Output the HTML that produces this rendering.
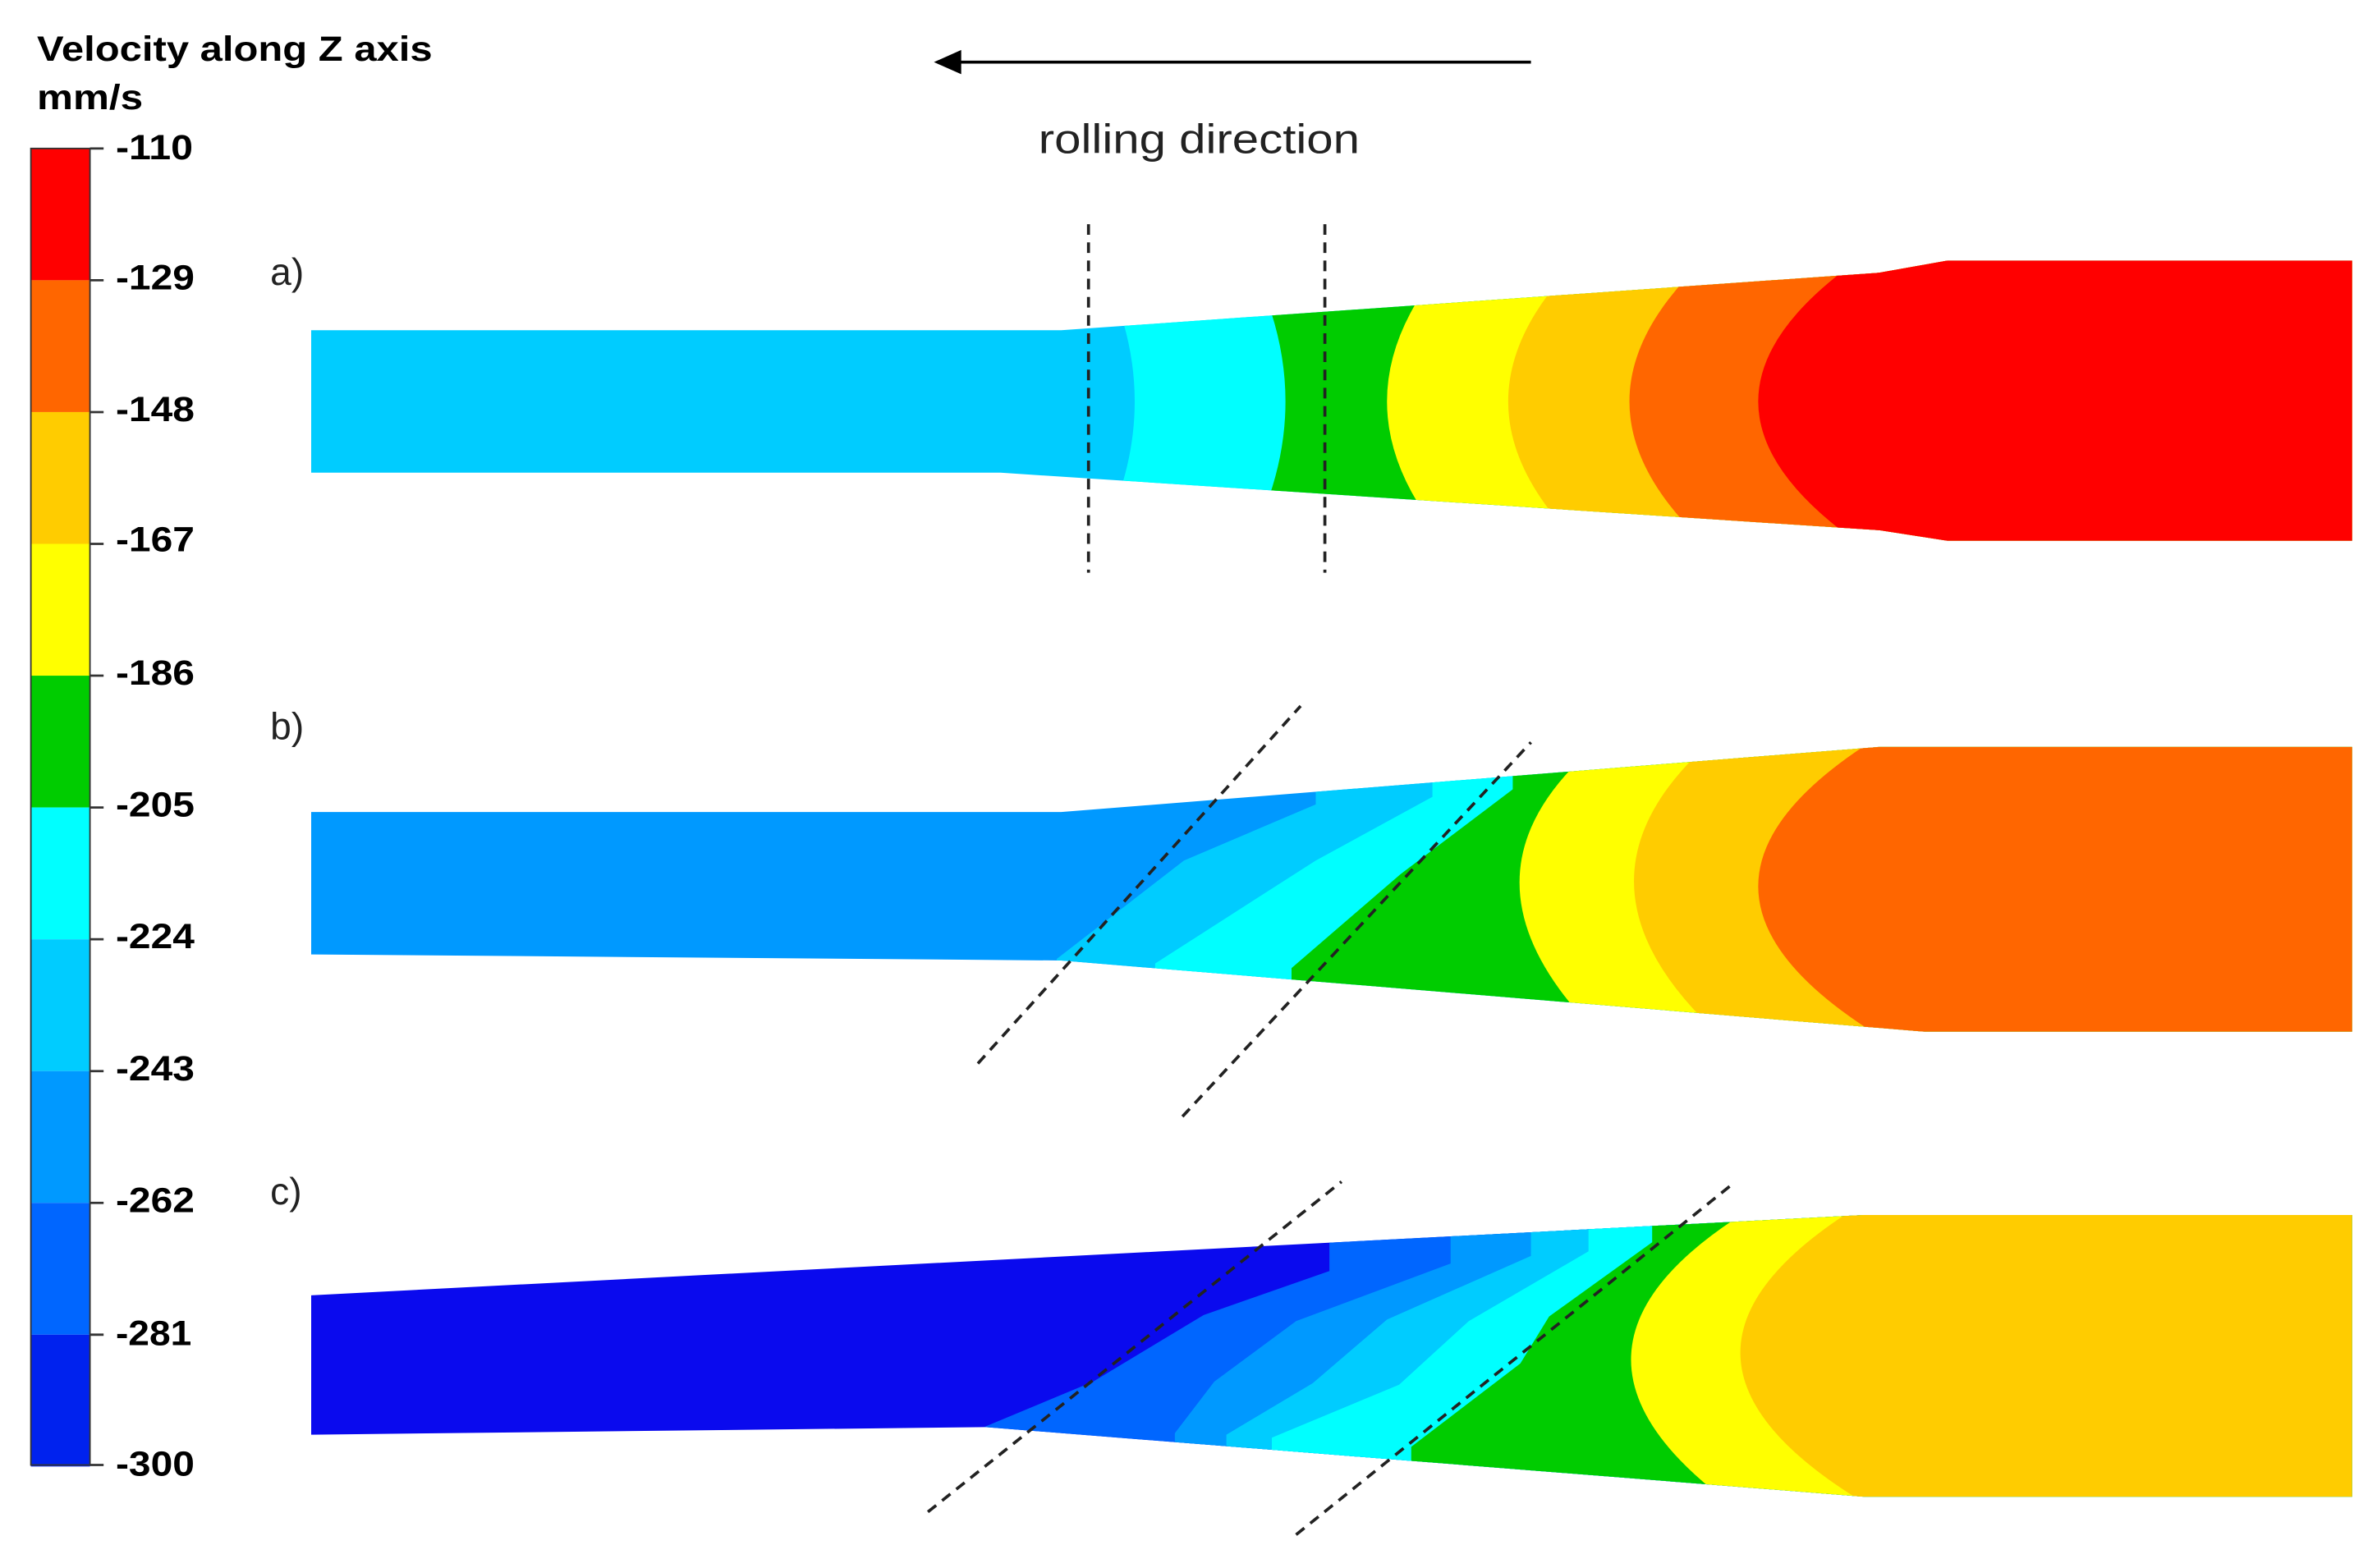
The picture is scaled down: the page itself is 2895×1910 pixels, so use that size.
<!DOCTYPE html>
<html><head><meta charset="utf-8"><style>
html,body{margin:0;padding:0;background:#fff;}
svg{display:block;}
text{font-family:"Liberation Sans",Arial,sans-serif;}
</style></head><body>
<svg width="2895" height="1910" viewBox="0 0 1568 1035" xmlns="http://www.w3.org/2000/svg">
<defs>
<clipPath id="ca"><path d="M205,218 L700,218 L1240,180 L1285,172 L1552,172 L1552,357 L1285,357 L1240,350 L660,312 L205,312 Z"/></clipPath>
<clipPath id="cb"><path d="M205,536 L700,536 L1240,493 L1552,493 L1552,681 L1270,681 L700,634 L205,630 Z"/></clipPath>
<clipPath id="cc"><path d="M205,855 L1230,802 L1552,802 L1552,988 L1230,988 L650,942 L205,947 Z"/></clipPath>
</defs>
<text x="24" y="40" font-size="23" font-weight="bold" textLength="261" lengthAdjust="spacingAndGlyphs">Velocity along Z axis</text>
<text x="24" y="72" font-size="23" font-weight="bold" textLength="70" lengthAdjust="spacingAndGlyphs">mm/s</text>
<g stroke="none">
<rect x="20" y="98" width="39" height="87" fill="#ff0000"/>
<rect x="20" y="185" width="39" height="87" fill="#ff6600"/>
<rect x="20" y="272" width="39" height="87" fill="#ffcc00"/>
<rect x="20" y="359" width="39" height="87" fill="#ffff00"/>
<rect x="20" y="446" width="39" height="87" fill="#00cc00"/>
<rect x="20" y="533" width="39" height="87" fill="#00ffff"/>
<rect x="20" y="620" width="39" height="87" fill="#00ccff"/>
<rect x="20" y="707" width="39" height="87" fill="#0099ff"/>
<rect x="20" y="794" width="39" height="87" fill="#0066ff"/>
<rect x="20" y="881" width="39" height="87" fill="#0022ee"/>
</g>
<rect x="20" y="98" width="39" height="869" fill="none" stroke="#333" stroke-width="1"/>
<g font-size="23" font-weight="bold">
<text x="76" y="105" textLength="51" lengthAdjust="spacingAndGlyphs">-110</text><text x="76" y="191" textLength="52" lengthAdjust="spacingAndGlyphs">-129</text><text x="76" y="278" textLength="52" lengthAdjust="spacingAndGlyphs">-148</text>
<text x="76" y="364" textLength="52" lengthAdjust="spacingAndGlyphs">-167</text><text x="76" y="452" textLength="52" lengthAdjust="spacingAndGlyphs">-186</text><text x="76" y="539" textLength="52" lengthAdjust="spacingAndGlyphs">-205</text>
<text x="76" y="626" textLength="52" lengthAdjust="spacingAndGlyphs">-224</text><text x="76" y="713" textLength="52" lengthAdjust="spacingAndGlyphs">-243</text><text x="76" y="800" textLength="52" lengthAdjust="spacingAndGlyphs">-262</text>
<text x="76" y="888" textLength="50" lengthAdjust="spacingAndGlyphs">-281</text><text x="76" y="974" textLength="52" lengthAdjust="spacingAndGlyphs">-300</text>
</g>
<g stroke="#333" stroke-width="1.5">
<line x1="59" y1="98" x2="68" y2="98"/><line x1="59" y1="185" x2="68" y2="185"/><line x1="59" y1="272" x2="68" y2="272"/>
<line x1="59" y1="359" x2="68" y2="359"/><line x1="59" y1="446" x2="68" y2="446"/><line x1="59" y1="533" x2="68" y2="533"/>
<line x1="59" y1="620" x2="68" y2="620"/><line x1="59" y1="707" x2="68" y2="707"/><line x1="59" y1="794" x2="68" y2="794"/>
<line x1="59" y1="881" x2="68" y2="881"/><line x1="59" y1="967" x2="68" y2="967"/>
</g>
<line x1="1010" y1="41" x2="632" y2="41" stroke="#000" stroke-width="2"/>
<path d="M616,41 L634,33 L634,49 Z" fill="#000"/>
<text x="685" y="101" font-size="27" fill="#222" textLength="212" lengthAdjust="spacingAndGlyphs">rolling direction</text>
<g font-size="25" fill="#222"><text x="178" y="188">a)</text><text x="178" y="488">b)</text><text x="178" y="795">c)</text></g>
<g clip-path="url(#ca)">
<rect x="200" y="150" width="1360" height="220" fill="#00ccff"/>
<path d="M712,150 Q785,265 712,380 L1600,380 L1600,150 Z" fill="#00ffff"/>
<path d="M812,150 Q884,265 812,380 L1600,380 L1600,150 Z" fill="#00cc00"/>
<path d="M975,150 Q855,265 975,380 L1600,380 L1600,150 Z" fill="#ffff00"/>
<path d="M1065,150 Q925,265 1065,380 L1600,380 L1600,150 Z" fill="#ffcc00"/>
<path d="M1150,150 Q1000,265 1150,380 L1600,380 L1600,150 Z" fill="#ff6600"/>
<path d="M1260,150 Q1060,265 1260,380 L1600,380 L1600,150 Z" fill="#ff0000"/>
</g>
<g stroke="#222" stroke-width="2" stroke-dasharray="7,5">
<line x1="718" y1="148" x2="718" y2="378"/><line x1="874" y1="148" x2="874" y2="378"/>
</g>
<g clip-path="url(#cb)">
<rect x="200" y="480" width="1360" height="210" fill="#0099ff"/>
<path d="M868,480 L868,531 L781,568 L697,633 L697,690 L1600,690 L1600,480 Z" fill="#00ccff"/>
<path d="M945,480 L945,526 L868,568 L762,636 L762,690 L1600,690 L1600,480 Z" fill="#00ffff"/>
<path d="M998,480 L998,521 L924,577 L852,639 L852,690 L1600,690 L1600,480 Z" fill="#00cc00"/>
<path d="M1068,480 Q940,575 1062,690 L1600,690 L1600,480 Z" fill="#ffff00"/>
<path d="M1140,480 Q1015,580 1142,690 L1600,690 L1600,480 Z" fill="#ffcc00"/>
<path d="M1250,480 Q1070,585 1250,690 L1600,690 L1600,480 Z" fill="#ff6600"/>
</g>
<g stroke="#222" stroke-width="2" stroke-dasharray="7,5">
<line x1="645" y1="702" x2="858" y2="466"/><line x1="780" y1="737" x2="1010" y2="490"/>
</g>
<g clip-path="url(#cc)">
<rect x="200" y="795" width="1360" height="200" fill="#0a0aee"/>
<path d="M877,795 L877,839 L794,868 L721,912 L649,942 L649,995 L1600,995 L1600,795 Z" fill="#0066ff"/>
<path d="M957,795 L957,834 L855,872 L801,912 L775,946 L775,995 L1600,995 L1600,795 Z" fill="#0099ff"/>
<path d="M1010,795 L1010,829 L915,871 L866,913 L809,947 L809,995 L1600,995 L1600,795 Z" fill="#00ccff"/>
<path d="M1048,795 L1048,826 L969,872 L923,914 L839,949 L839,995 L1600,995 L1600,795 Z" fill="#00ffff"/>
<path d="M1090,795 L1090,820 L1022,869 L1003,900 L931,955 L931,995 L1600,995 L1600,795 Z" fill="#00cc00"/>
<path d="M1160,795 Q1000,890 1145,995 L1600,995 L1600,795 Z" fill="#ffff00"/>
<path d="M1228,795 Q1065,895 1235,995 L1600,995 L1600,795 Z" fill="#ffcc00"/>
</g>
<g stroke="#222" stroke-width="2" stroke-dasharray="7,5">
<line x1="612" y1="998" x2="885" y2="780"/><line x1="855" y1="1013" x2="1145" y2="780"/>
</g>
</svg>
</body></html>
